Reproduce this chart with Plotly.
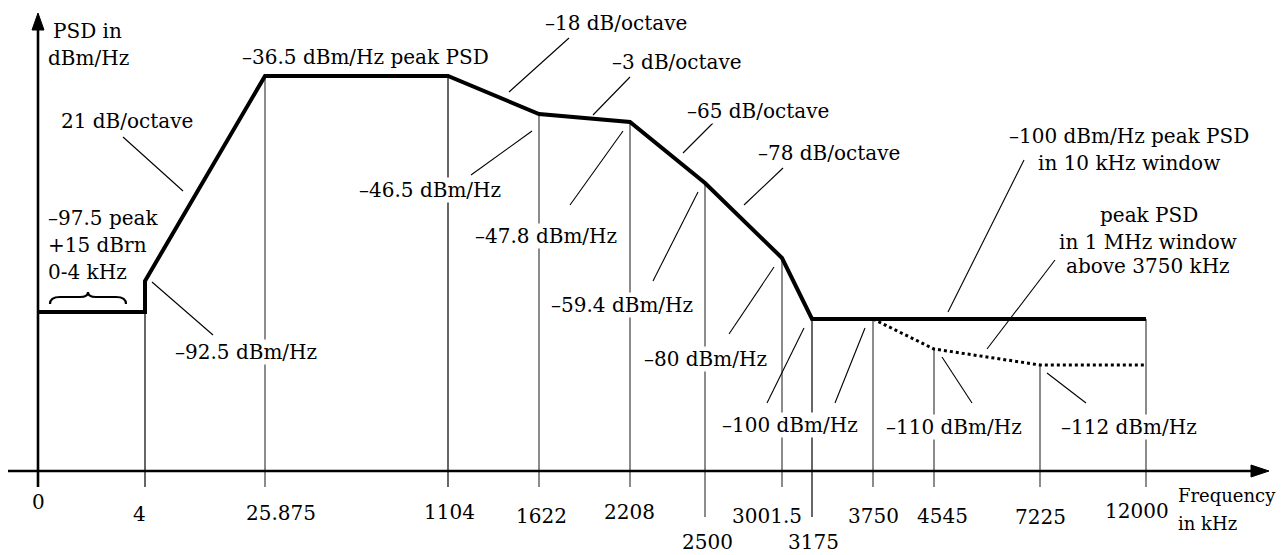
import plotly.graph_objects as go

# ---------------- data ----------------
# frequency break points (kHz) shown on the schematic axis
freq_ticks = [0, 4, 25.875, 1104, 1622, 2208, 2500, 3001.5, 3175, 3750, 4545, 7225, 12000]
freq_labels = ["0", "4", "25.875", "1104", "1622", "2208", "2500", "3001.5", "3175",
               "3750", "4545", "7225", "12000"]

# main PSD mask (dBm/Hz)
mask_freq = [0, 4, 4, 25.875, 1104, 1622, 2208, 2500, 3001.5, 3175, 12000]
mask_psd = [-97.5, -97.5, -92.5, -36.5, -36.5, -46.5, -47.8, -59.4, -80, -100, -100]

# 1 MHz window peak PSD above 3750 kHz (dotted)
win_freq = [3750, 4545, 7225, 12000]
win_psd = [-100, -110, -112, -112]

# level at which each frequency's drop line starts
drop_psd = [None, -92.5, -36.5, -36.5, -46.5, -47.8, -59.4, -80, -100, -100, -110, -112, -100]

# ---------------- schematic (non-linear) scales ----------------
slot_x = [38, 145, 265, 448, 539, 630, 705, 782, 812, 873, 934, 1040, 1146]
psd_levels = [-36.5, -46.5, -47.8, -59.4, -80, -92.5, -97.5, -100, -110, -112]
level_y = [76, 114, 122, 183, 258, 281, 312, 319, 349, 365]
XMAP = dict(zip(freq_ticks, slot_x))
YMAP = dict(zip(psd_levels, level_y))

AXIS_Y = 471
FONT = dict(family="DejaVu Serif", size=20, color="black")
FONT_SMALL = dict(family="DejaVu Serif", size=18, color="black")

fig = go.Figure()

# drop lines
shapes = []
long_drop = {2500, 3175}
black_drop = {4, 1104, 3175}
for f, p in zip(freq_ticks, drop_psd):
    if p is None:
        continue
    x = XMAP[f]
    bottom = 517 if f in long_drop else 487
    col = "black" if f in black_drop else "#7f7f7f"
    w = 1.2 if f in black_drop else 1.8
    shapes.append(dict(type="line", xref="x", yref="y", x0=x, x1=x, y0=YMAP[p], y1=bottom,
                       line=dict(color=col, width=w), layer="below"))

# axes
shapes.append(dict(type="line", xref="x", yref="y", x0=8, x1=1256, y0=AXIS_Y, y1=AXIS_Y,
                   line=dict(color="black", width=2.6)))
shapes.append(dict(type="line", xref="x", yref="y", x0=38, x1=38, y0=487, y1=26,
                   line=dict(color="black", width=2.6)))
shapes.append(dict(type="path", xref="x", yref="y",
                   path="M 1269,471 L 1251,465 L 1251,477 Z", fillcolor="black",
                   line=dict(color="black", width=1)))
shapes.append(dict(type="path", xref="x", yref="y",
                   path="M 38,13 L 32,30 L 44,30 Z", fillcolor="black",
                   line=dict(color="black", width=1)))

# curly brace over 0-4 kHz
shapes.append(dict(type="path", xref="x", yref="y",
                   path="M 50,304 Q 50,297 60,297 L 80,297 Q 88,297 88,292 "
                        "Q 88,297 96,297 L 116,297 Q 126,297 126,304",
                   line=dict(color="black", width=2.2)))

# leader lines
leaders = [
    (123, 137, 183, 191),   # 21 dB/octave
    (152, 282, 213, 335),   # -92.5
    (569, 38, 509, 92),     # -18 dB/octave
    (630, 77, 593, 115),    # -3 dB/octave
    (713, 123, 683, 153),   # -65 dB/octave
    (783, 168, 744, 205),   # -78 dB/octave
    (471, 175, 532, 131),   # -46.5
    (570, 205, 623, 131),   # -47.8
    (653, 281, 698, 192),   # -59.4
    (729, 334, 774, 267),   # -80
    (767, 403, 804, 328),   # -100 (a)
    (835, 403, 865, 328),   # -100 (b)
    (1024, 160, 948, 312),  # -100 peak PSD
    (1055, 260, 987, 349),  # 1 MHz window
    (942, 357, 972, 403),   # -110
    (1047, 373, 1086, 403), # -112
]
for x0, y0, x1, y1 in leaders:
    shapes.append(dict(type="line", xref="x", yref="y", x0=x0, y0=y0, x1=x1, y1=y1,
                       line=dict(color="black", width=1.1)))

# main mask
fig.add_trace(go.Scatter(x=[XMAP[f] for f in mask_freq], y=[YMAP[p] for p in mask_psd],
                         mode="lines", line=dict(color="black", width=4),
                         hoverinfo="skip", showlegend=False))
# dotted window line
fig.add_trace(go.Scatter(x=[XMAP[f] for f in win_freq], y=[YMAP[p] for p in win_psd],
                         mode="lines", line=dict(color="black", width=3, dash="dot"),
                         hoverinfo="skip", showlegend=False))

# text
texts = [
    ("PSD in", 52, 31, "left"),
    ("dBm/Hz", 47, 58, "left"),
    ("–36.5 dBm/Hz peak PSD", 365, 57, "center"),
    ("21 dB/octave", 127, 121, "center"),
    ("–97.5 peak", 47, 218, "left"),
    ("+15 dBrn", 47, 245, "left"),
    ("0-4 kHz", 47, 272, "left"),
    ("–92.5 dBm/Hz", 246, 352, "center"),
    ("–18 dB/octave", 616, 23, "center"),
    ("–3 dB/octave", 677, 62, "center"),
    ("–65 dB/octave", 758, 111, "center"),
    ("–78 dB/octave", 829, 153, "center"),
    ("–46.5 dBm/Hz", 430, 190, "center"),
    ("–47.8 dBm/Hz", 546, 236, "center"),
    ("–59.4 dBm/Hz", 622, 305, "center"),
    ("–80 dBm/Hz", 705, 359, "center"),
    ("–100 dBm/Hz", 790, 425, "center"),
    ("–100 dBm/Hz peak PSD", 1129, 136, "center"),
    ("in 10 kHz window", 1129, 163, "center"),
    ("peak PSD", 1149, 215, "center"),
    ("in 1 MHz window", 1148, 242, "center"),
    ("above 3750 kHz", 1148, 266, "center"),
    ("–110 dBm/Hz", 954, 427, "center"),
    ("–112 dBm/Hz", 1129, 427, "center"),
]
axis_title = [("Frequency", 1177, 495), ("in kHz", 1177, 523)]
tick_pos = {"0": (38, 502), "4": (139, 514), "25.875": (281, 513), "1104": (449, 512),
            "1622": (541, 516), "2208": (629, 512), "2500": (707, 542), "3001.5": (767, 516),
            "3175": (813, 542), "3750": (873, 516), "4545": (942, 516), "7225": (1040, 517),
            "12000": (1137, 511)}

annotations = []
for t, x, y, al in texts:
    annotations.append(dict(text=t, x=x, y=y, xref="x", yref="y", showarrow=False,
                            xanchor=al, yanchor="middle",
                            font=FONT, bgcolor="white", borderpad=0))
for t, x, y in axis_title:
    annotations.append(dict(text=t, x=x, y=y, xref="x", yref="y", showarrow=False,
                            xanchor="left", yanchor="middle", font=FONT_SMALL, borderpad=0))
for lab in freq_labels:
    x, y = tick_pos[lab]
    annotations.append(dict(text=lab, x=x, y=y, xref="x", yref="y", showarrow=False,
                            xanchor="center", yanchor="middle", font=FONT, borderpad=0))

fig.update_layout(
    width=1281, height=555,
    margin=dict(l=0, r=0, t=0, b=0),
    paper_bgcolor="white", plot_bgcolor="white",
    font=FONT,
    xaxis=dict(range=[0, 1281], visible=False, fixedrange=True),
    yaxis=dict(range=[555, 0], visible=False, fixedrange=True),
    shapes=shapes, annotations=annotations, showlegend=False,
)

fig.write_html("out.html", post_script="document.body.style.margin='0';",
               config={"displayModeBar": False})
